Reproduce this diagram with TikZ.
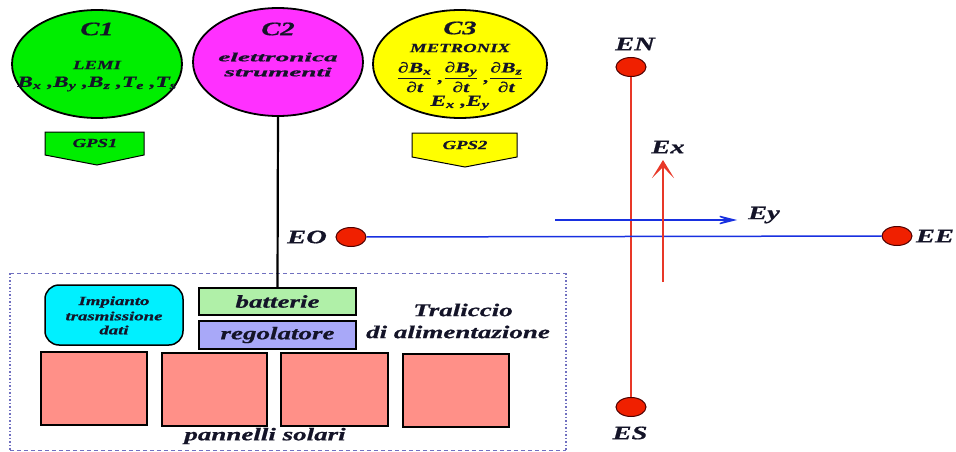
\documentclass[tikz,border=0pt]{standalone}
\usepackage{amsmath}
\usepackage{fontspec}
\usepackage{graphicx}
\setmainfont{Liberation Serif}[FakeStretch=1.5, BoldItalicFeatures={FakeBold=0.7}]
\usetikzlibrary{shapes.geometric,arrows.meta}
\definecolor{cgreen}{HTML}{00EE00}
\definecolor{cmag}{HTML}{FF30FF}
\definecolor{cyel}{HTML}{FFFF00}
\definecolor{ccyan}{HTML}{00F0FF}
\definecolor{cbatt}{HTML}{B0F0A8}
\definecolor{creg}{HTML}{A8A8F8}
\definecolor{cpan}{HTML}{FF9088}
\definecolor{cred}{HTML}{F02000}
\definecolor{cline}{HTML}{E83828}
\definecolor{cblue}{HTML}{1830E0}
\definecolor{cdash}{HTML}{7070C0}
\definecolor{txt}{HTML}{141428}
\begin{document}
\begin{tikzpicture}[x=1pt,y=-1pt,
  lbl/.style={font=\bfseries\itshape\fontsize{#1}{#1}\selectfont, inner sep=0pt, text=txt, align=center},
  bubble/.style={ellipse, draw=black, line width=1.8pt, minimum width=170pt, minimum height=108pt, inner sep=0pt},
  gps/.style={draw=black, line width=1pt},
  box/.style={draw=black, line width=1.5pt, inner sep=0pt},
  panel/.style={draw=black, line width=1.8pt, fill=cpan, inner sep=0pt, minimum height=73pt},
  dot/.style={ellipse, draw=black!70!red, line width=1pt, fill=cred, minimum width=30pt, minimum height=19pt, inner sep=0pt},
]
\useasboundingbox (0,0) rectangle (956,452);

% bubbles
\node[bubble, fill=cgreen] (C1) at (97,64) {};
\node[bubble, fill=cmag] (C2) at (278,62) {};
\node[bubble, fill=cyel, minimum width=174pt] (C3) at (460,64) {};

\node[lbl=19] (t1) at (97,29) {C1};
\node[lbl=12.5] (lemi) at (97,65) {LEMI};
\node[lbl=15.5] (bvec) at (97,84) {B\textsubscript{x} ,B\textsubscript{y} ,B\textsubscript{z} ,T\textsubscript{e} ,T\textsubscript{s}};

\node[lbl=19] (t2) at (278,29) {C2};
\node[lbl=12.5] (el1) at (278,57) {\scalebox{1.45}[1]{elettronica}};
\node[lbl=12.5] (el2) at (278,72) {\scalebox{1.45}[1]{strumenti}};

\node[lbl=19] (t3) at (460,28) {C3};
\node[lbl=12.5] (metr) at (460,48) {METRONIX};
\node[lbl=14.5] (frac) at (460,77) {$\dfrac{\mbox{∂B\textsubscript{x}}}{\mbox{∂t}}\mbox{ ,}\dfrac{\mbox{∂B\textsubscript{y}}}{\mbox{∂t}}\mbox{ ,}\dfrac{\mbox{∂B\textsubscript{z}}}{\mbox{∂t}}$};
\node[lbl=15.5] (exy) at (460,103) {E\textsubscript{x} ,E\textsubscript{y}};

% GPS
\draw[gps, fill=cgreen] (45,132) -- (144,132) -- (144,155) -- (97,165) -- (45,155) -- cycle;
\node[lbl=12.5] (g1) at (95,143) {GPS1};
\draw[gps, fill=cyel] (412,133) -- (517,133) -- (517,157) -- (465,167) -- (412,157) -- cycle;
\node[lbl=12.5] (g2) at (465,145) {GPS2};

% dashed frame
\draw[cdash, line width=1pt, dash pattern=on 4pt off 3pt] (10,273) -- (566,273) (10,450) -- (566,450);
\draw[cdash, line width=1.5pt, dash pattern=on 1.5pt off 2pt] (10,273) -- (10,450) (566,273) -- (566,450);

% boxes
\node[box, rounded corners=14pt, fill=ccyan, minimum width=138pt, minimum height=60pt] (imp) at (114,315) {};
\node[lbl=12.5] (i1) at (114,302) {Impianto};
\node[lbl=12.5] (i2) at (114,316) {trasmissione};
\node[lbl=12.5] (i3) at (114,330) {dati};

\node[box, fill=cbatt, minimum width=157pt, minimum height=27pt, lbl=18] (batt) at (277.5,301.5) {batterie};
\node[box, fill=creg, minimum width=157pt, minimum height=28pt, lbl=18] (reg) at (277.5,335) {regolatore};

\node[panel, minimum width=106pt] (p1) at (94,388.5) {};
\node[panel, minimum width=105pt] (p2) at (214.5,389.5) {};
\node[panel, minimum width=107pt] (p3) at (334.5,389.5) {};
\node[panel, minimum width=106pt] (p4) at (456,390.5) {};
\node[lbl=18] (pann) at (265,436) {pannelli solari};

\node[lbl=18] (tr1) at (463,310) {Traliccio};
\node[lbl=18] (tr2) at (458,332) {di alimentazione};

\draw[line width=2.2pt] (C2.south) -- (batt.north);

% electrodes
\node[dot] (EN) at (631,67) {};
\node[dot] (ES) at (631,407) {};
\node[dot] (EO) at (351,237) {};
\node[dot] (EE) at (897,236) {};
\draw[cline, line width=1.8pt] (EN) -- (ES);
\draw[cblue, line width=1.5pt] (EO) -- (EE);

\node[lbl=19] (lEN) at (635,44) {EN};
\node[lbl=19] (lES) at (630,433) {ES};
\node[lbl=19] (lEO) at (307,237) {EO};
\node[lbl=19] (lEE) at (935,236) {EE};
\node[lbl=19] (lEx) at (668,147) {Ex};
\node[lbl=19] (lEy) at (764,215) {Ey};

\coordinate (ey0) at (555,220);
\coordinate (ey1) at (737,220);
\draw[cblue, line width=1.3pt, -{Stealth[length=26pt,width=13pt,inset=16pt]}] (ey0) -- (ey1);
\coordinate (ex0) at (663,282);
\coordinate (ex1) at (663,160);
\draw[cline, line width=2.4pt, -{Stealth[length=18pt,width=22pt,inset=11pt]}] (ex0) -- (ex1);
\end{tikzpicture}
\end{document}
